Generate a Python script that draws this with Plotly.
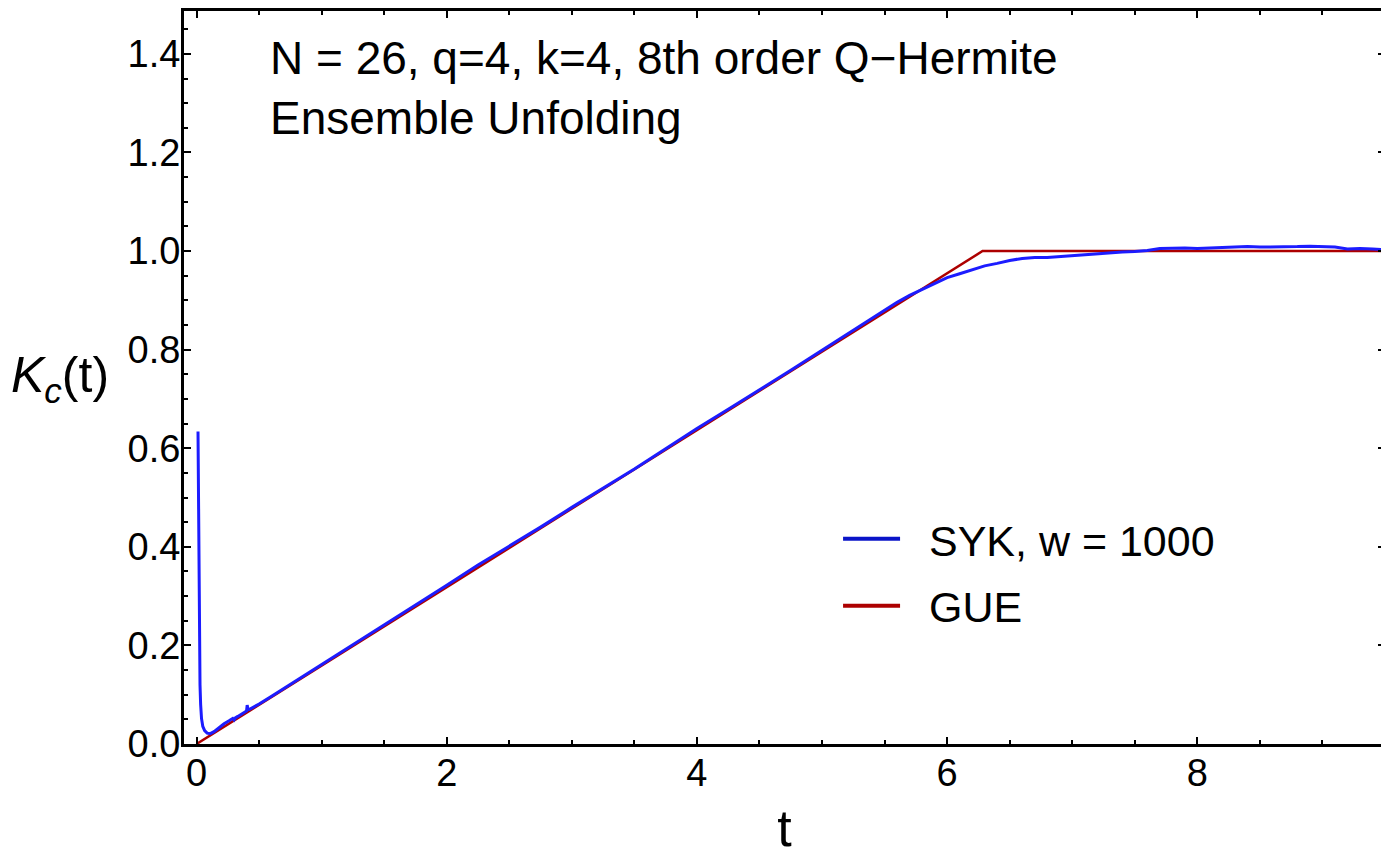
import plotly.graph_objects as go

# SYK spectral form factor
syk_t = [0.012, 0.016, 0.020, 0.024, 0.028, 0.033, 0.040, 0.050, 0.065, 0.085,
         0.11, 0.14, 0.18, 0.22, 0.26, 0.29, 0.30, 0.31, 0.33, 0.36, 0.39, 0.40,
         0.405, 0.41, 0.42, 0.45, 0.50, 0.60, 0.75, 1.0, 1.25, 1.5, 1.75, 2.0,
         2.25, 2.5, 2.75, 3.0, 3.25, 3.5, 3.75, 4.0, 4.25, 4.5, 4.75, 5.0, 5.25,
         5.5, 5.6, 5.7, 5.8, 5.9, 6.0, 6.1, 6.2, 6.3, 6.4, 6.5, 6.6, 6.7, 6.8,
         6.9, 7.0, 7.1, 7.2, 7.3, 7.4, 7.5, 7.6, 7.7, 7.8, 7.9, 8.0, 8.1, 8.2,
         8.3, 8.4, 8.5, 8.6, 8.7, 8.8, 8.9, 9.0, 9.1, 9.2, 9.3, 9.4, 9.5]
syk_k = [0.634, 0.45, 0.30, 0.19, 0.12, 0.080, 0.052, 0.036, 0.027, 0.022,
         0.021, 0.025, 0.034, 0.041, 0.047, 0.052, 0.049, 0.053, 0.056, 0.061, 0.066, 0.067,
         0.079, 0.072, 0.070, 0.074, 0.081, 0.097, 0.121, 0.161, 0.201, 0.241, 0.282, 0.322,
         0.363, 0.401, 0.440, 0.480, 0.519, 0.558, 0.599, 0.640, 0.679, 0.718, 0.758, 0.799, 0.840,
         0.881, 0.896, 0.910, 0.922, 0.935, 0.946, 0.954, 0.962, 0.970, 0.975, 0.981, 0.985, 0.987, 0.987,
         0.989, 0.991, 0.992, 0.995, 0.996, 0.998, 0.999, 1.001, 1.005, 1.006, 1.006, 1.005, 1.006, 1.006,
         1.008, 1.009, 1.008, 1.008, 1.008, 1.009, 1.010, 1.009, 1.008, 1.004, 1.005, 1.004, 1.003]

# GUE: linear ramp up to t = 2*pi, then plateau
gue_t = [0.0, 6.2832, 9.5]
gue_k = [0.0, 1.0, 1.0]

xticks = [0, 2, 4, 6, 8]
yticks = [0.0, 0.2, 0.4, 0.6, 0.8, 1.0, 1.2, 1.4]
ytick_labels = ["0.0", "0.2", "0.4", "0.6", "0.8", "1.0", "1.2", "1.4"]

FONT = "Arial, Liberation Sans, sans-serif"
BLUE = "#1c1cff"
RED = "#ad0000"
NB = "\u00a0\u00a0"  # gap between legend line and label

fig = go.Figure()
fig.add_trace(go.Scatter(x=gue_t, y=gue_k, mode="lines", showlegend=False,
                         line=dict(color=RED, width=2.5)))
fig.add_trace(go.Scatter(x=syk_t, y=syk_k, mode="lines", showlegend=False,
                         line=dict(color=BLUE, width=3)))
# legend entries
fig.add_trace(go.Scatter(x=[None], y=[None], mode="lines", name=NB + "SYK, w = 1000",
                         legendgroup="a", line=dict(color="#0a14c8", width=4)))
fig.add_trace(go.Scatter(x=[None], y=[None], mode="lines", name=NB + "GUE",
                         legendgroup="b", line=dict(color=RED, width=4)))

axis_common = dict(showline=True, linecolor="black", linewidth=3, mirror="allticks",
                   ticks="inside", ticklen=7, tickwidth=2, tickcolor="black",
                   showgrid=False, zeroline=False,
                   tickfont=dict(family=FONT, size=38, color="black"))

fig.update_xaxes(range=[-0.1, 9.5], tickvals=xticks, ticktext=[str(v) for v in xticks],
                 ticklabelstandoff=-7,
                 minor=dict(dtick=0.5, tick0=0, ticks="inside", ticklen=4, tickwidth=2,
                            tickcolor="black", showgrid=False),
                 title=dict(text="t", font=dict(family=FONT, size=52, color="black"),
                            standoff=18),
                 **axis_common)
fig.update_yaxes(range=[0, 1.487], tickvals=yticks, ticktext=ytick_labels,
                 ticklabelstandoff=-7,
                 minor=dict(dtick=0.05, tick0=0, ticks="inside", ticklen=4, tickwidth=2,
                            tickcolor="black", showgrid=False),
                 **axis_common)

fig.add_annotation(text="N = 26, q=4, k=4, 8th order Q\u2212Hermite<br>Ensemble Unfolding",
                   xref="paper", yref="paper", x=0.070, y=0.9735,
                   xanchor="left", yanchor="top", align="left", showarrow=False,
                   font=dict(family=FONT, size=46, color="black"))
fig.add_annotation(text="<i>K</i><sub><i>c</i></sub>(t)",
                   xref="paper", yref="paper", x=-0.1457, y=0.4986,
                   xanchor="left", yanchor="middle", showarrow=False,
                   font=dict(family=FONT, size=50, color="black"))

fig.update_layout(
    width=1381, height=858,
    margin=dict(l=176, r=4, t=0, b=122),
    paper_bgcolor="white", plot_bgcolor="white",
    legend=dict(x=0.5446, y=0.327, xanchor="left", yanchor="top",
                bgcolor="rgba(0,0,0,0)", itemwidth=57, tracegroupgap=8,
                font=dict(family=FONT, size=43, color="black")),
)

fig.write_html("out.html")
